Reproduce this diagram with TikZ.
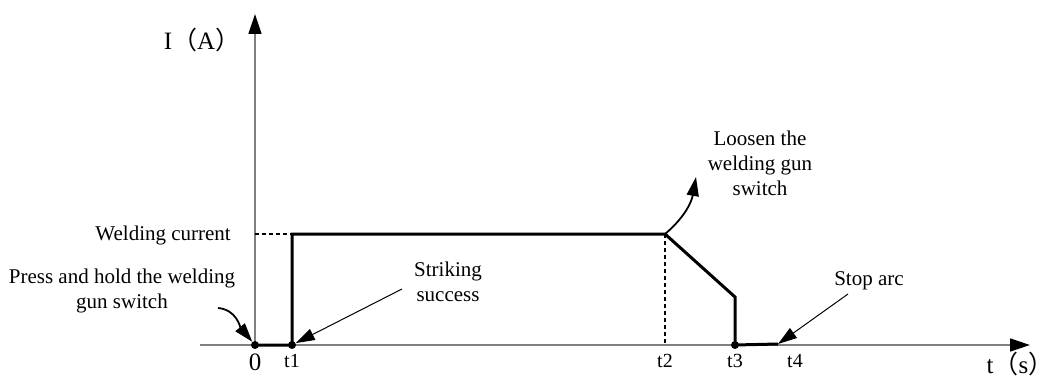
\documentclass[tikz,border=0pt]{standalone}
\usepackage{fontspec}
\setmainfont{Liberation Serif}
\newfontfamily\cjk{Noto Sans CJK SC}
\usetikzlibrary{arrows.meta}
\definecolor{axisgray}{RGB}{128,128,128}
\begin{document}
\begin{tikzpicture}[x=1pt,y=1pt,
  axis/.style={draw=axisgray, line width=1.5pt},
  bigtip/.style={-{Triangle[length=20pt,width=13pt,color=black]}},
  ptr/.style={-{Triangle[length=19pt,width=12pt]}},
  wave/.style={line width=3pt, line join=miter},
  guide/.style={line width=1.2pt, dash pattern=on 4pt off 3pt},
  lbl/.style={font=\fontsize{21}{25}\selectfont, align=center, inner sep=0pt},
  ticklbl/.style={font=\fontsize{20}{24}\selectfont, inner sep=0pt, anchor=base},
  axlbl/.style={font=\fontsize{25}{30}\selectfont, inner sep=0pt, anchor=base},
  dot/.style={circle, fill=black, inner sep=0pt, minimum size=8pt}]
\useasboundingbox (0,0) rectangle (1052,378);
% axes
\coordinate (xs) at (200,33);
\coordinate (xe) at (1030,33);
\coordinate (ys) at (255,33);
\coordinate (ye) at (255,364);
\draw[axis, bigtip] (xs) -- (xe);
\draw[axis, bigtip] (ys) -- (ye);
\node[axlbl] (ylab) at (202,328) {I{\cjk （}A{\cjk ）}};
\node[axlbl] (xlab) at (1020,5) {t{\cjk （}s{\cjk ）}};
% key points
\node[dot] (O) at (255,33) {};
\node[dot] (T1) at (292,33) {};
\node[dot] (T3) at (735,33) {};
\coordinate (W) at (255,144);
\coordinate (P1) at (292,144);
\coordinate (P2) at (665,144);
\coordinate (P3) at (735,81);
\coordinate (P4) at (778,34);
\coordinate (T2) at (665,33);
% waveform
\draw[wave] (O.center) -- (T1.center) -- (P1) -- (P2) -- (P3) -- (T3.center) -- (P4);
\draw[guide] (W) -- (P1);
\draw[guide] (P2) -- (T2);
% tick labels
\node[ticklbl, font=\fontsize{25}{30}\selectfont] (l0) at (255,8) {0};
\node[ticklbl] (l1) at (292,11) {t1};
\node[ticklbl] (l2) at (665,11) {t2};
\node[ticklbl] (l3) at (735,11) {t3};
\node[ticklbl] (l4) at (795,11) {t4};
% annotations
\node[lbl, anchor=base east] (wc) at (231,138) {Welding current};
\node[lbl] (press) at (122,87) {Press and hold the welding\\gun switch};
\node[lbl] (strike) at (448,96) {Striking\\success};
\node[lbl] (loosen) at (760,215) {Loosen the\\welding gun\\switch};
\node[lbl, anchor=base] (stop) at (869,93) {Stop arc};
\coordinate (pa) at (218,70);
\coordinate (sa) at (402,89);
\coordinate (la) at (696,201);
\coordinate (st) at (848,84);
\draw[line width=1.8pt, ptr] (pa) to[out=-5, in=130] (O);
\draw[line width=1pt, ptr] (sa) -- (T1);
\draw[line width=1.8pt, ptr] (P2) to[out=40, in=-100] (la);
\draw[line width=1pt, ptr] (st) -- (P4);
\end{tikzpicture}
\end{document}
